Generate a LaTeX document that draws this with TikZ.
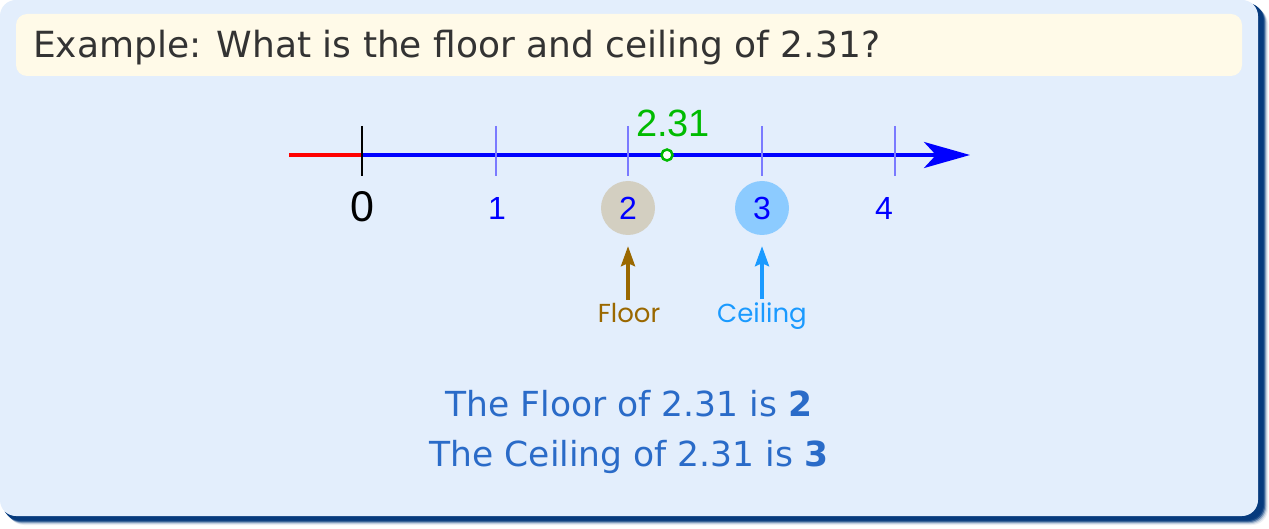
\documentclass[tikz,border=0pt]{standalone}
\usepackage{fontspec}
\setmainfont{DejaVu Sans}
\newfontfamily\numfont{Liberation Sans}
\newfontfamily\handfont{Poppins}
\usetikzlibrary{positioning}
\usetikzlibrary{arrows.meta}

\definecolor{panelbg}{HTML}{E3EEFC}
\definecolor{shadowblue}{HTML}{063A7D}
\definecolor{titlebg}{HTML}{FFFAE8}
\definecolor{titletxt}{HTML}{333333}
\definecolor{lineblue}{HTML}{0000FF}
\definecolor{tickblue}{HTML}{7A7AFF}
\definecolor{ptgreen}{HTML}{00BB00}
\definecolor{floorbrown}{HTML}{9A6800}
\definecolor{floorbg}{HTML}{D3CFC1}
\definecolor{ceilblue}{HTML}{1A9AFF}
\definecolor{ceilbg}{HTML}{8CCBFF}
\definecolor{answer}{HTML}{2A6BC8}

\begin{document}
\begin{tikzpicture}[x=1pt,y=-1pt,
	tick/.style={draw=tickblue,line width=1.2pt},
	numlbl/.style={inner sep=0pt,text=lineblue,font=\numfont\fontsize{32}{32}\selectfont},
	disc/.style={circle,minimum size=54pt,inner sep=0pt,text=lineblue,font=\numfont\fontsize{32}{32}\selectfont},
	tag/.style={inner sep=0pt,anchor=base,font=\handfont\fontsize{26}{26}\selectfont},
	uparrow/.style={line width=3.5pt,-{Stealth[length=20pt,width=14pt,inset=3pt]},shorten >=11pt,shorten <=4pt},
	answerline/.style={anchor=base,inner sep=0pt,text=answer,font=\fontsize{34.5}{34.5}\selectfont}]
	\useasboundingbox (0,0) rectangle (1269,529);
	\fill[white] (0,0) rectangle (1269,529);

	% shadow and panel
	\foreach \d/\o in {11/0.08,10/0.15,9/0.3,8/0.55,7/0.8,6/1}
		\fill[shadowblue,opacity=\o,rounded corners=16pt] (\d-3,\d-3) rectangle (1258+\d-1,516+\d-2);
	\fill[panelbg,rounded corners=16pt] (0,0) rectangle (1258,516);
	\fill[titlebg,rounded corners=11pt] (16,14) rectangle (1242,76);
	\node [anchor=base west,inner sep=0pt,text=titletxt,font=\fontsize{36}{36}\selectfont] (title) at (33,58) {Example: What is the floor and ceiling of 2.31?};

	% number line
	\coordinate (redstart) at (289,155);
	\coordinate (zero) at (362,155);
	\coordinate (tip) at (970,155);
	\draw [red,line width=3.5pt] (redstart) -- (zero);
	\draw [lineblue,line width=3.5pt,-{Stealth[length=46pt,width=26pt,inset=12pt]}] (zero) -- (tip);
	\draw [black,line width=2.5pt] (362,126) -- (362,176);
	\foreach \x in {496,628,762,895}
		\draw [tick] (\x,126) -- (\x,176);

	\node [inner sep=0pt,font=\numfont\fontsize{43}{43}\selectfont] (lbl0) at (362,207) {0};
	\node [numlbl] (lbl1) at (497,208) {1};
	\node [disc,fill=floorbg] (lbl2) at (628,208) {2};
	\node [disc,fill=ceilbg] (lbl3) at (762,208) {3};
	\node [numlbl] (lbl4) at (884,208) {4};

	\node [circle,draw=ptgreen,fill=white,line width=2.5pt,minimum size=11pt,inner sep=0pt] (pt) at (667,155) {};
	\node [inner sep=0pt,text=ptgreen,font=\numfont\fontsize{38}{38}\selectfont] (ptlbl) at (673,123) {2.31};

	% floor and ceiling
	\node [tag,text=floorbrown] (floor) at (629,323) {Floor};
	\node [tag,text=ceilblue] (ceiling) at (762,323) {Ceiling};
	\draw [uparrow,floorbrown] (floor.north -| lbl2.south) -- (lbl2.south);
	\draw [uparrow,ceilblue] (ceiling.north -| lbl3.south) -- (lbl3.south);

	% answers
	\node [answerline] (ansfloor) at (629,416) {The Floor of 2.31 is \textbf{2}};
	\node [answerline] (ansceil) at (629,466) {The Ceiling of 2.31 is \textbf{3}};
\end{tikzpicture}
\end{document}
